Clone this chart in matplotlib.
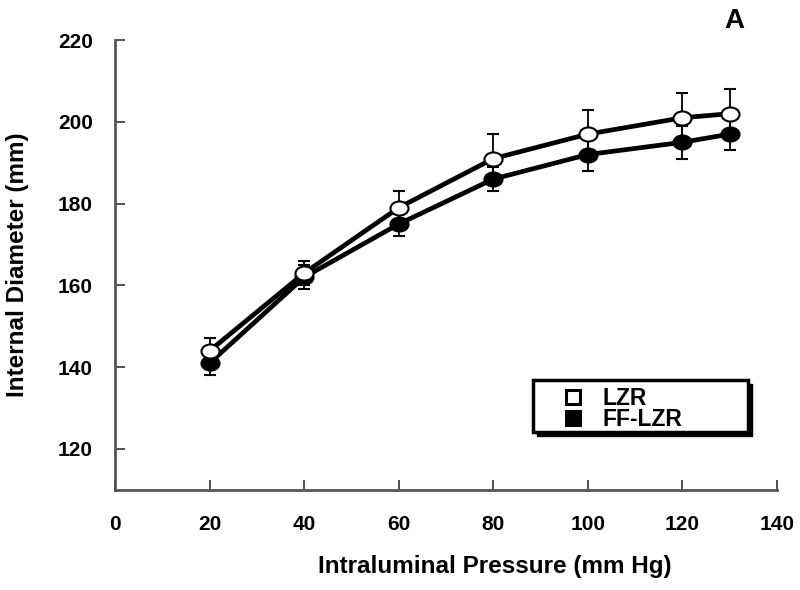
import numpy as np
import matplotlib
matplotlib.use('Agg')
import matplotlib.pyplot as plt
from matplotlib.lines import Line2D
from matplotlib.patches import Rectangle
from matplotlib.path import Path

plt.rcParams['font.family'] = ['Liberation Sans', 'DejaVu Sans']
plt.rcParams['font.weight'] = 'bold'

pressure = [20, 40, 60, 80, 100, 120, 130]
lzr = [144, 163, 179, 191, 197, 201, 202]
lzr_err = [3, 3, 4, 6, 6, 6, 6]
fflzr = [141, 162, 175, 186, 192, 195, 197]
fflzr_err = [3, 3, 3, 3, 4, 4, 4]

# slightly flattened circle, like the original markers
circ = Path.unit_circle()
ellipse = Path(circ.vertices * [1, 0.78], circ.codes)

fig = plt.figure(figsize=(8, 5.9), dpi=100)
ax = fig.add_axes([0.144, 0.17, 0.827, 0.762])

ax.errorbar(pressure, fflzr, yerr=fflzr_err, color='black', lw=3.4,
            marker=ellipse, ms=13, mfc='black', mec='black', mew=1.5,
            ecolor='black', elinewidth=1.3, capsize=4.5, capthick=1.3, zorder=3)
ax.errorbar(pressure, lzr, yerr=lzr_err, color='black', lw=3.4,
            marker=ellipse, ms=13, mfc='white', mec='black', mew=1.5,
            ecolor='black', elinewidth=1.3, capsize=4.5, capthick=1.3, zorder=4)

ax.set_xlim(0, 140)
ax.set_ylim(110, 220)
ax.set_xticks(np.arange(0, 141, 20))
ax.set_yticks(np.arange(120, 221, 20))
ax.tick_params(direction='in', length=7, width=1.3, color='#444444', labelsize=15)
ax.tick_params(axis='x', pad=18)
ax.tick_params(axis='y', pad=16)
for s in ['top', 'right']:
    ax.spines[s].set_visible(False)
for s in ['left', 'bottom']:
    ax.spines[s].set_linewidth(2)
    ax.spines[s].set_color('#555555')

fig.text(495 / 800, 1 - 567 / 590, 'Intraluminal Pressure (mm Hg)', fontsize=17.5,
         fontweight='bold', ha='center', va='center')
fig.text(18 / 800, 1 - 265 / 590, 'Internal Diameter (mm)', fontsize=17.5,
         fontweight='bold', ha='center', va='center', rotation=90)

fig.text(0.918, 0.965, 'A', fontsize=20, fontweight='bold', ha='center', va='center')

# legend box with solid black shadow
bx, by, bw, bh = 533 / 800, 1 - 432 / 590, 215 / 800, 52 / 590
fig.patches.append(Rectangle((bx + 4 / 800, by - 4 / 590), bw, bh, transform=fig.transFigure,
                             facecolor='black', edgecolor='black', zorder=5))
fig.patches.append(Rectangle((bx, by), bw, bh, transform=fig.transFigure,
                             facecolor='white', edgecolor='black', lw=2.5, zorder=6))

handles = [Line2D([], [], ls='none', marker='s', ms=10.5, mfc='white', mec='black', mew=2.2),
           Line2D([], [], ls='none', marker='s', ms=10.5, mfc='black', mec='black', mew=2.2)]
leg = fig.legend(handles, ['LZR', 'FF-LZR'], loc='center left',
                 bbox_to_anchor=(548 / 800, 1 - 409 / 590), frameon=False,
                 prop={'size': 16.5, 'weight': 'bold'}, handletextpad=0.7,
                 labelspacing=-0.1, borderpad=0, handlelength=1.2)
leg.set_zorder(7)

fig.savefig('out.png', dpi=100)
